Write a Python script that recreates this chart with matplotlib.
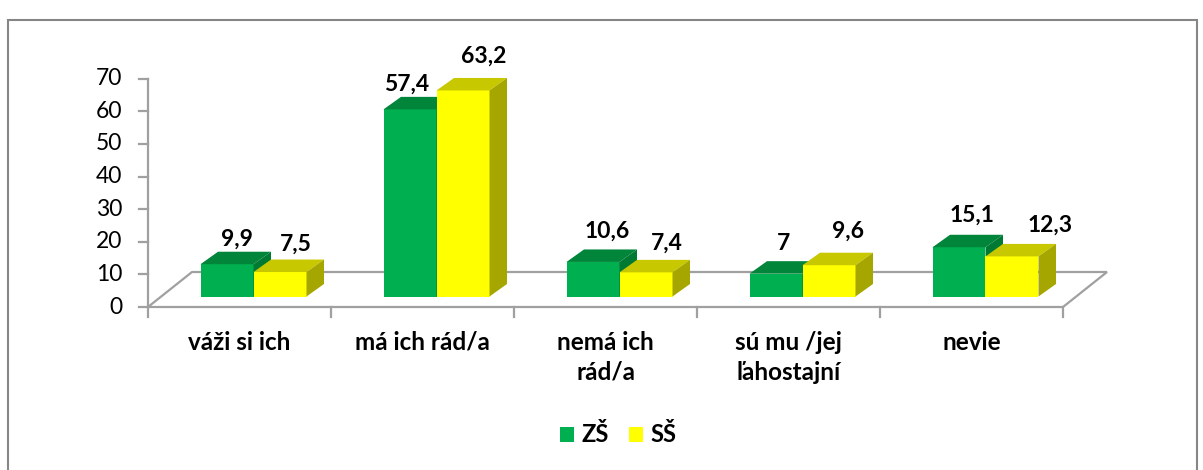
import matplotlib
matplotlib.use("Agg")
import matplotlib.pyplot as plt
from matplotlib.patches import Polygon, Rectangle, Patch

# ---- data ----
categories = ["váži si ich", "má ich rád/a", "nemá ich\nrád/a", "sú mu /jej\nľahostajní", "nevie"]
zs_values = [9.9, 57.4, 10.6, 7.0, 15.1]
ss_values = [7.5, 63.2, 7.4, 9.6, 12.3]
value_labels_zs = ["9,9", "57,4", "10,6", "7", "15,1"]
value_labels_ss = ["7,5", "63,2", "7,4", "9,6", "12,3"]
series_names = ["ZŠ", "SŠ"]
y_ticks = [0, 10, 20, 30, 40, 50, 60, 70]

# ---- layout / style ----
W, H, DPI = 1203, 470, 100
FONT = ["Lato", "DejaVu Sans"]
plt.rcParams["font.family"] = FONT

green_front, green_top, green_side = "#00B050", "#00853A", "#007A33"
yel_front, yel_top, yel_side = "#FFFF00", "#C8C800", "#A6A600"
axis_gray = "#A0A0A0"

# data-label nudges in pixels (dx, dy above the bar's top-back edge), as placed in the original
nudge_zs = [(1, 6), (-12, 6.5), (5, 12), (-1, 11.5), (4, 13)]
nudge_ss = [(7, 9), (12, 15.5), (12, 10), (10, 15), (29, 12)]

# pixel -> data mapping constants (category unit = 183 px, value unit = 3.26 px)
PX_X, PX_Y = 183.0, 3.26
X0_PX, Y0_PX = 148.0, 307.0

fig = plt.figure(figsize=(W / DPI, H / DPI), dpi=DPI)
ax = fig.add_axes([0, 0, 1, 1])
ax.set_xlim(-X0_PX / PX_X, (W - X0_PX) / PX_X)
ax.set_ylim((Y0_PX - H) / PX_Y, Y0_PX / PX_Y)
ax.axis("off")

n = len(categories)
floor_dx, floor_dy = 44 / PX_X, 35 / PX_Y      # floor depth
bar_x0, bar_y0 = 14 / PX_X, 10.5 / PX_Y        # bar front-face offset into depth
bar_dx, bar_dy = 17.5 / PX_X, 12.5 / PX_Y      # bar depth
bar_w = 53 / PX_X

# floor outline
ax.plot([0, n, n + floor_dx, floor_dx, 0], [0, 0, floor_dy, floor_dy, 0],
        color=axis_gray, lw=1.6, solid_joinstyle="miter", zorder=1)
# vertical axis
ax.plot([0, 0], [0, max(y_ticks)], color=axis_gray, lw=1.6, zorder=1)
for t in y_ticks:
    ax.plot([-9 / PX_X, 0], [t, t], color=axis_gray, lw=1.6, zorder=1)
    ax.text(-26 / PX_X, t, str(t), ha="right", va="center", fontsize=16.5, color="black")
# category ticks
for i in range(n + 1):
    ax.plot([i, i], [0, -10 / PX_Y], color=axis_gray, lw=1.6, zorder=1)


def draw_bar(x, v, front, top, side, z):
    y = bar_y0
    ax.add_patch(Rectangle((x, y), bar_w, v, facecolor=front, edgecolor="none", zorder=z))
    ax.add_patch(Polygon([(x, y + v), (x + bar_w, y + v), (x + bar_w + bar_dx, y + v + bar_dy),
                          (x + bar_dx, y + v + bar_dy)], closed=True, facecolor=top,
                         edgecolor="none", zorder=z))
    ax.add_patch(Polygon([(x + bar_w, y), (x + bar_w + bar_dx, y + bar_dy),
                          (x + bar_w + bar_dx, y + v + bar_dy), (x + bar_w, y + v)], closed=True,
                         facecolor=side, edgecolor="none", zorder=z))


for i in range(n):
    c = i + 0.5 + bar_x0
    draw_bar(c - bar_w, zs_values[i], green_front, green_top, green_side, 3 + 2 * i)
    draw_bar(c, ss_values[i], yel_front, yel_top, yel_side, 4 + 2 * i)
    for x, v, lab, (ndx, ndy) in [(c - bar_w, zs_values[i], value_labels_zs[i], nudge_zs[i]),
                                  (c, ss_values[i], value_labels_ss[i], nudge_ss[i])]:
        ax.text(x + bar_w / 2 + bar_dx / 2 + ndx / PX_X, bar_y0 + v + bar_dy + ndy / PX_Y, lab,
                ha="center", va="baseline", fontsize=16.5, fontweight="bold", color="black",
                zorder=20)
    ax.text(i + 0.5, -24 / PX_Y, categories[i], ha="center", va="top", fontsize=17.5,
            fontweight="bold", linespacing=1.36, color="black")

handles = [Patch(facecolor=green_front), Patch(facecolor=yel_front)]
fig.legend(handles, series_names, loc="center", bbox_to_anchor=(618 / W, 1 - 435 / H), ncol=2,
           frameon=False, handlelength=0.62, handleheight=0.62, handletextpad=0.3,
           columnspacing=0.85, prop={"family": FONT, "weight": "bold", "size": 17})

# chart frame
fig.patches.append(Rectangle((8 / W, -0.05), (1197 - 8) / W, 1.05 - 20 / H,
                             transform=fig.transFigure, fill=False, edgecolor="#868686", lw=1.5))

fig.savefig("out.png", dpi=DPI)
